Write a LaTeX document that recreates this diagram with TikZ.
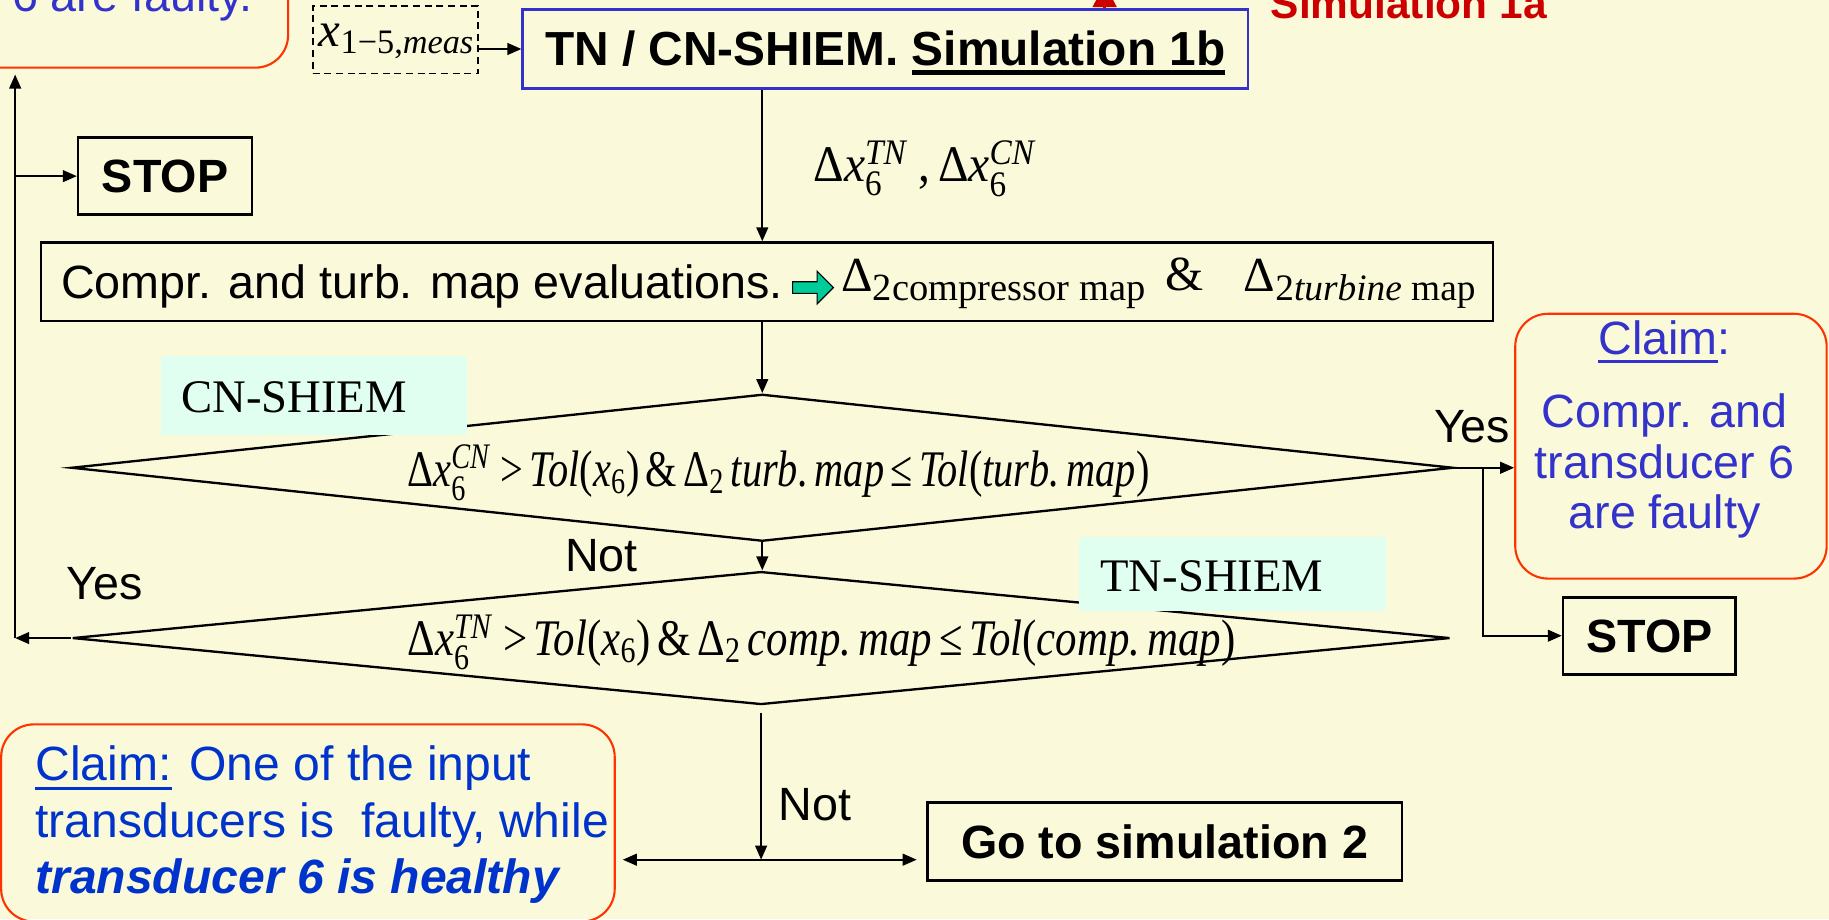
\documentclass[tikz,border=0pt]{standalone}
\usepackage{fontspec}
\usepackage{amsmath}
\usepackage{graphicx}
\usetikzlibrary{shapes.geometric,shapes.arrows,arrows.meta,calc}
\setmainfont{Liberation Sans}
\newfontfamily\tnr{Liberation Serif}
\definecolor{bg}{RGB}{250,250,218}
\definecolor{claimred}{RGB}{255,51,0}
\definecolor{claimblue}{RGB}{51,51,204}
\definecolor{claimbluetwo}{RGB}{0,51,204}
\definecolor{tnblue}{RGB}{51,51,204}
\definecolor{tagcyan}{RGB}{224,255,240}
\definecolor{tealc}{RGB}{0,204,153}
\definecolor{simred}{RGB}{204,0,0}
\newcommand\ti[1]{\text{\tnr\itshape #1}}
\newcommand\tu[1]{\text{\tnr\upshape #1}}
\newlength\ulw
\newcommand\myul[3]{\settowidth{\ulw}{#3}\rlap{\rule[-#2]{\ulw}{#1}}#3}
\tikzset{
  lbl/.style={inner sep=0pt, anchor=base west},
  boxnode/.style={draw=black, line width=1.1pt, inner sep=0pt},
  boldtext/.style={font=\fontsize{20}{24}\selectfont\bfseries, text height=14.3pt, text depth=0pt},
  claim/.style={draw=claimred, line width=0.9pt, rounded corners=14pt, inner sep=0pt},
  cond/.style={diamond, draw=black, line width=1pt, inner sep=0pt},
  tag/.style={fill=tagcyan, inner sep=0pt},
  serif/.style={font=\fontsize{20}{24}\selectfont\tnr},
  formula/.style={lbl, font=\fontsize{22}{26}\selectfont},
  conn/.style={line width=0.9pt, -{Triangle[length=6pt,width=5pt]}},
}
\begin{document}
\begin{tikzpicture}[x=0.5pt,y=-0.5pt,font=\fontsize{20}{24}\selectfont]
\useasboundingbox (0,0) rectangle (1568,788);
\clip (0,0) rectangle (1568,788);
\fill[bg] (0,0) rectangle (1568,788);

% top-left claim box (cut by the frame)
\node[claim, minimum width=153.5pt, minimum height=89pt] (claimTL) at (93.5,-31) {};
\node[lbl, text=claimblue] (claimTLtxt) at (10,10) {6 are faulty.};

% input box
\node[draw=black, line width=0.8pt, dash pattern=on 3pt off 2pt, minimum width=71pt, minimum height=29pt, inner sep=0pt] (xmeas) at (339,34) {};
\node[lbl, font=\fontsize{21}{25}\selectfont] (xmeastxt) at (273,40) {$\ti{x}_{\tu{1−5,}\ti{meas}}$};

% simulation 1b box
\node[draw=tnblue, line width=1pt, minimum width=311pt, minimum height=34pt, inner sep=0pt, boldtext, font=\fontsize{20.5}{24}\selectfont\bfseries] (tn) at (759,42) {TN / CN-SHIEM. \myul{2pt}{4pt}{Simulation 1b}};
\coordinate (redtip) at (947,-14);
\node[lbl, text=simred, font=\fontsize{18.2}{22}\selectfont\bfseries] (sim1a) at (1089,16) {Simulation 1a};

% map evaluation box
\node[boxnode, minimum width=622.5pt, minimum height=33.5pt] (compr) at (657.5,241.5) {};
\node[lbl] (comprtxt) at (52,256) {Compr. and turb. map evaluations.};
\node[single arrow, draw=black, line width=0.5pt, fill=tealc, minimum height=17.5pt, minimum width=13.5pt, single arrow head extend=4.5pt, inner sep=2.25pt] (teal) at (694.5,246.5) {};
\node[lbl] (dcomp) at (721,250) {{\fontsize{21}{24}\selectfont\tnr Δ}\raisebox{-4pt}{\fontsize{16.5}{19}\selectfont\tnr 2compressor map}};
\node[lbl] (amp) at (999,249) {\fontsize{21}{24}\selectfont\tnr \&};
\node[lbl] (dturb) at (1066,250) {{\fontsize{21}{24}\selectfont\tnr Δ}\raisebox{-4pt}{\fontsize{16}{19}\selectfont\tnr 2\itshape turbine\upshape{} map}};

\node[formula] (dxlab) at (697,156) {\resizebox{95pt}{\height}{$\tu{Δ}\ti{x}^{\ti{TN}}_{\tu{6}}\tu{ ,}\,\tu{Δ}\ti{x}^{\ti{CN}}_{\tu{6}}$}};

% decision 1
\node[cond, minimum width=592.5pt, minimum height=63pt] (d1) at (653.5,401) {};
\node[tag, minimum width=131pt, minimum height=33.5pt] (cntag) at (269,339) {};
\node[lbl, serif] (cntagtxt) at (155,354) {CN-SHIEM};
\node[formula] (f1) at (349,417) {\resizebox{318pt}{\height}{$\tu{Δ}\ti{x}^{\ti{CN}}_{\tu{6}}\;\tu{>}\,\ti{Tol}\tu{(}\ti{x}_{\tu{6}}\tu{)}\,\tu{\&}\,\tu{Δ}_{\tu{2}}\,\ti{turb.\,map}\,\tu{≤}\,\ti{Tol}\tu{(}\ti{turb.\,map}\tu{)}$}};

% decision 2
\node[cond, minimum width=590.5pt, minimum height=57pt] (d2) at (652.5,547) {};
\node[tag, minimum width=131.5pt, minimum height=32pt] (tntag) at (1056.5,492) {};
\node[lbl, serif] (tntagtxt) at (943,507) {TN-SHIEM};
\node[formula] (f2) at (349,562) {\resizebox{355pt}{\height}{$\tu{Δ}\ti{x}^{\ti{TN}}_{\tu{6}}\;\tu{>}\,\ti{Tol}\tu{(}\ti{x}_{\tu{6}}\tu{)}\,\tu{\&}\,\tu{Δ}_{\tu{2}}\,\ti{comp.\,map}\,\tu{≤}\,\ti{Tol}\tu{(}\ti{comp.\,map}\tu{)}$}};

% right claim
\node[claim, minimum width=133.5pt, minimum height=113.5pt] (claimR) at (1432.5,382.5) {};
\node[align=center, text=claimblue, font=\fontsize{20}{21.5}\selectfont, inner sep=0pt] (claimRtxt) at (1427,368) {\myul{1pt}{3.5pt}{Claim}:\\[10pt]Compr. and\\transducer 6\\are faulty};

% stop boxes
\node[boxnode, minimum width=74pt, minimum height=33pt, boldtext] (stopR) at (1414,545) {STOP};
\node[boxnode, minimum width=74.5pt, minimum height=33pt, boldtext] (stopTL) at (141.5,151) {STOP};

% bottom-left claim
\node[claim, minimum width=263pt, minimum height=84.5pt] (claimBL) at (264,705.5) {};
\node[anchor=north west, align=left, inner sep=0pt, text=claimbluetwo, font=\fontsize{20.6}{24.25}\selectfont] (claimBLtxt) at (30,639) {\myul{1.2pt}{4pt}{Claim:} One of the input\\transducers is~ faulty, while\\\textbf{\textit{transducer 6 is healthy}}};

% go to simulation 2
\node[boxnode, minimum width=203.5pt, minimum height=33.5pt, boldtext] (goto) at (998.5,721.5) {Go to simulation 2};

% labels
\node[lbl] (yesR) at (1229,379) {Yes};
\node[lbl] (yesL) at (57,514) {Yes};
\node[lbl] (notA) at (484,490) {Not};
\node[lbl] (notB) at (667,703) {Not};

% connectors
\draw[simred, line width=1.5pt, -{Triangle[length=10pt,width=10pt]}] (tn.north -| redtip) -- (redtip);
\draw[conn] (xmeas.east |- tn.west) -- (tn.west);
\draw[conn] (tn.south -| d1.north) -- (compr.north -| d1.north);
\draw[conn] (compr.south -| d1.north) -- (d1.north);
\draw[conn] (d1.south) -- (d2.north -| d1.south);
\draw[conn] (d1.east) -- (d1.east -| claimR.west);
\coordinate (rbr) at (1271,401);
\draw[conn] (rbr) |- (stopR.west);
\coordinate (lft) at (13,547);
\draw[conn] (d2.west) -- (lft);
\draw[conn, shorten >=2.5pt] (lft) -- (lft |- claimTL.south);
\draw[conn] (lft |- stopTL.west) -- (stopTL.west);
\coordinate (junc) at (650,737);
\draw[conn] ([yshift=-3pt]d2.south) -- (d2.south |- junc);
\draw[line width=0.9pt, {Triangle[length=6pt,width=5pt]}-{Triangle[length=6pt,width=5pt]}] ([xshift=3pt]claimBL.east |- junc) -- ([xshift=-4pt]goto.west |- junc);
\end{tikzpicture}
\end{document}
